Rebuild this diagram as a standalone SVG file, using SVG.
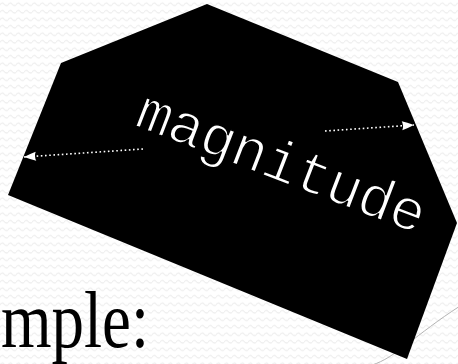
<svg xmlns="http://www.w3.org/2000/svg" width="458" height="364" viewBox="0 0 458 364">
<defs>
<style>
.dots{stroke:#fff;stroke-width:1.6;stroke-dasharray:1.6 2.6;fill:none}
.label{font-family:"Liberation Mono","DejaVu Sans Mono",monospace;fill:#fff;stroke:#000;stroke-width:1.6}
.title{font-family:"Liberation Serif","DejaVu Serif",serif;fill:#000}
</style>
<pattern id="bg" width="8" height="7.5" patternUnits="userSpaceOnUse">
<path d="M0,5 Q2,1.5 4,4 T8,5" fill="none" stroke="#ececec" stroke-width="1"/>
</pattern>
<marker id="ah" viewBox="0 0 14 12" refX="13" refY="6" markerWidth="14" markerHeight="12" markerUnits="userSpaceOnUse" orient="auto">
<path d="M1,1.5 Q6,3 13,6 Q6,9 1,10.5 Q3,6 1,1.5 Z" fill="#fff"/>
</marker>
</defs>
<rect width="458" height="364" fill="#fff"/>
<rect width="458" height="364" fill="url(#bg)"/>
<path d="M372,365 C395,358 415,335 460,306" fill="none" stroke="#b4b4b4" stroke-width="1"/>
<g id="shape">
<polygon points="207,4 398,82 457,223 407,359 8,195 61,63" fill="#000"/>
</g>
<g id="label-magnitude">
<text class="label" transform="translate(133,125) rotate(21)" x="0" y="0" font-size="58" textLength="305" lengthAdjust="spacing">magnitude</text>
</g>
<g id="connectors">
<line class="dots" x1="143" y1="149" x2="24" y2="157" marker-end="url(#ah)"/>
<line class="dots" x1="325" y1="131" x2="414" y2="125" marker-end="url(#ah)"/>
</g>
<g id="caption">
<text class="title" x="1" y="347" font-size="80" textLength="148" lengthAdjust="spacingAndGlyphs">mple:</text>
</g>
</svg>
